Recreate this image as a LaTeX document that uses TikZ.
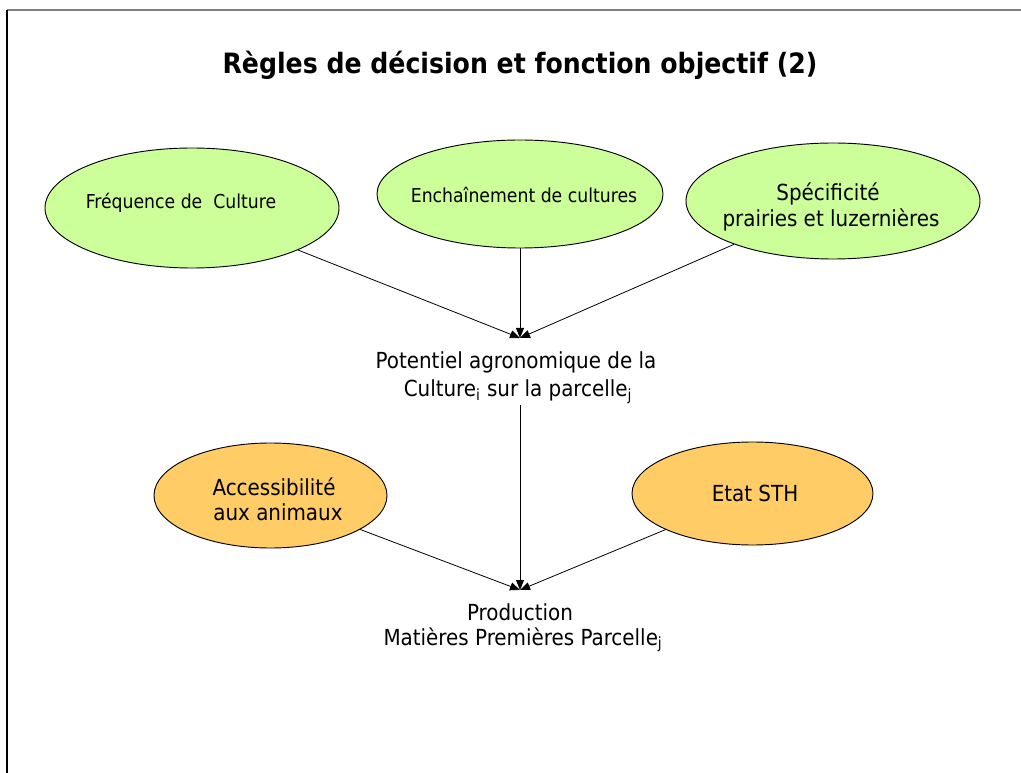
\documentclass[tikz,border=0pt]{standalone}
\usepackage{fontspec}
\setmainfont{DejaVu Sans Condensed}
\usetikzlibrary{arrows.meta,shapes.geometric}
\definecolor{leafgreen}{RGB}{204,255,153}
\definecolor{straw}{RGB}{255,204,102}
\definecolor{rulegray}{RGB}{128,128,128}
\begin{document}
\begin{tikzpicture}[x=0.75pt,y=-0.75pt,
  bubble/.style={draw=black, line width=0.7pt, ellipse, inner sep=0pt},
  greenbubble/.style={bubble, fill=leafgreen},
  orangebubble/.style={bubble, fill=straw},
  txt/.style={anchor=base, inner sep=0pt, font=\fontsize{16.6}{20}\selectfont},
  smalltxt/.style={anchor=base, inner sep=0pt, font=\fontsize{14.4}{18}\selectfont},
  link/.style={line width=0.6pt, -{Triangle[length=7.5pt,width=6pt]}}]
\useasboundingbox (0,0) rectangle (1021,773);
% frame edges
\draw[rulegray, line width=0.9pt] (7,10) -- (1021,10);
\draw[black, line width=0.9pt] (7,10) -- (7,773);
% title
\node[anchor=base, inner sep=0pt, font=\fontsize{21}{25}\selectfont\bfseries] (title) at (520,74)
  {Règles de décision et fonction objectif (2)};
% upper row of factors
\node[greenbubble, minimum width=220.5pt, minimum height=90pt] (freq) at (192,208) {};
\node[greenbubble, minimum width=214.5pt, minimum height=81pt] (ench) at (520,194) {};
\node[greenbubble, minimum width=220.5pt, minimum height=87pt] (spec) at (833,201) {};
\node[smalltxt] (freqA) at (181,209) {Fréquence de\ \ Culture};
\node[smalltxt] (enchA) at (524,203) {Enchaînement de cultures};
\node[txt] (specA) at (828,201) {Spécificité};
\node[txt] (specB) at (831,227) {prairies et luzernières};
% agronomic potential
\coordinate (pottip) at (520,338);
\node[txt] (potA) at (516,369) {Potentiel agronomique de la};
\node[txt] (potB) at (518,397) {Culture\textsubscript{i} sur la parcelle\textsubscript{j}};
\coordinate (potfoot) at (520,405);
% lower row of factors
\node[orangebubble, minimum width=174.75pt, minimum height=78.75pt] (acc) at (270.5,495.5) {};
\node[orangebubble, minimum width=180.75pt, minimum height=77.25pt] (sth) at (752.5,493.5) {};
\node[txt] (accA) at (274,495) {Accessibilité};
\node[txt] (accB) at (278,520) {aux animaux};
\node[txt] (sthA) at (755,501) {Etat STH};
% production
\coordinate (prodtip) at (520,590);
\node[txt] (prodA) at (520,620) {Production};
\node[txt] (prodB) at (523,645) {Matières Premières Parcelle\textsubscript{j}};
% connectors
\draw[link] (freq) -- (pottip);
\draw[link] (ench) -- (pottip);
\draw[link] (spec) -- (pottip);
\draw[link] (potfoot) -- (prodtip);
\draw[link] (acc) -- (prodtip);
\draw[link] (sth) -- (prodtip);
\end{tikzpicture}
\end{document}
